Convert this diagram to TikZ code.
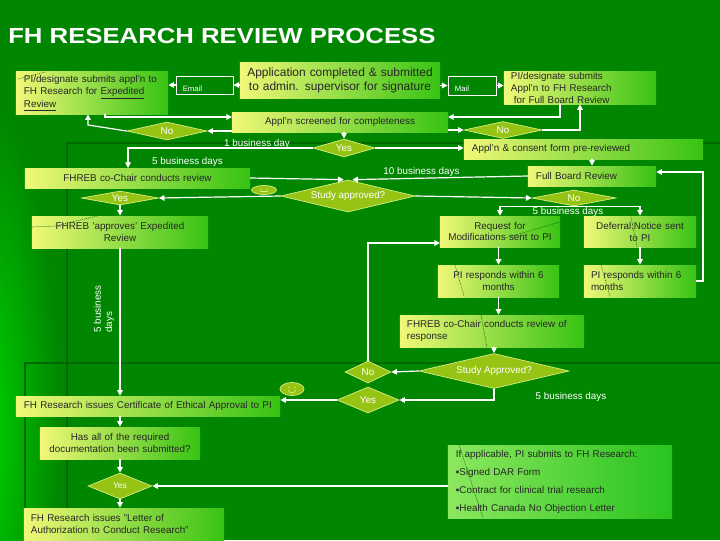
\documentclass[tikz,border=0pt]{standalone}
\usepackage{fontspec}
\setmainfont{Liberation Sans}
\newfontfamily\ttlfont{Liberation Sans}[FakeStretch=1.18]
\usetikzlibrary{arrows.meta,shapes.geometric}
\definecolor{bgmain}{RGB}{0,134,0}
\definecolor{bgedge}{RGB}{0,210,0}
\definecolor{bgline}{RGB}{0,104,0}
\definecolor{boxyel}{RGB}{240,248,120}
\definecolor{boxgrn}{RGB}{55,195,20}
\definecolor{notelt}{RGB}{140,232,95}
\definecolor{notedk}{RGB}{40,195,30}
\definecolor{decfill}{RGB}{150,196,20}
\definecolor{decedge}{RGB}{215,238,130}

\begin{document}
\begin{tikzpicture}[x=0.025cm,y=-0.025cm,>={Triangle[length=4pt,width=4pt]},line cap=round,
  stepbox/.style={rectangle,left color=boxyel,right color=boxgrn,text=black!85,inner sep=0pt,
    font=\fontsize{7}{8.5}\selectfont},
  decision/.style={diamond,fill=decfill,draw=decedge,line width=0.5pt,inner sep=0pt,text=white,
    font=\fontsize{7}{8}\selectfont},
  tagbox/.style={rectangle,draw=white,line width=0.6pt,inner sep=0pt},
  tagtxt/.style={text=white,inner sep=0pt,font=\fontsize{5.5}{6}\selectfont},
  daylbl/.style={text=white,inner sep=0pt,font=\fontsize{7}{8}\selectfont},
  flow/.style={white,line width=0.85pt,->},
  ghost/.style={densely dotted,black!65!green,line width=0.4pt},
  smiley/.style={ellipse,fill=decfill,draw=decedge,line width=0.5pt,inner sep=0pt}]

\useasboundingbox (0,0) rectangle (720,540);
\fill[bgmain] (0,0) rectangle (720,540);
\shade[inner color=bgedge,outer color=bgmain] (-15,430) ellipse (75 and 330);
\draw[bgline,line width=1.6pt] (67,540) -- (67,143) -- (720,143);
\draw[bgline,line width=1.2pt] (25,540) -- (25,363) -- (720,363);

\node[anchor=base west,text=white,inner sep=0pt,font=\ttlfont\bfseries\fontsize{15.5}{18}\selectfont] (ttl) at (8,43) {FH RESEARCH REVIEW PROCESS};

\node[stepbox,minimum width=3.8cm,minimum height=1.05cm,text width=3.4cm,align=left] (subExp) at (92,93) {PI/designate submits appl'n to\\FH Research for \underline{Expedited}\\\underline{Review}};
\node[tagbox,minimum width=1.425cm,minimum height=0.45cm] (email) at (204.5,85) {};
\node[tagtxt] (emailT) at (192.5,89) {Email};
\node[stepbox,minimum width=5cm,minimum height=0.875cm,text width=4.8cm,align=center,font=\fontsize{8.5}{10.5}\selectfont] (appSub) at (340,80.5) {Application completed \& submitted\\to admin. supervisor for signature};
\node[tagbox,minimum width=1.2cm,minimum height=0.475cm] (mail) at (472,85.5) {};
\node[tagtxt] (mailT) at (462,89) {Mail};
\node[stepbox,minimum width=3.8cm,minimum height=0.8cm,text width=3.45cm,align=left] (subFull) at (580,88) {PI/designate submits\\Appl'n to FH Research\\\hspace{2pt}for Full Board Review};
\node[stepbox,minimum width=5.4cm,minimum height=0.5cm,text width=5cm,align=center] (screen) at (340,122) {Appl'n screened for completeness};

\node[decision,shape aspect=4.4,minimum width=2cm,minimum height=0.45cm] (noL) at (167,131) {No};
\node[decision,shape aspect=4.6,minimum width=1.95cm,minimum height=0.425cm] (noR) at (503,130) {No};
\node[decision,shape aspect=3.4,minimum width=1.55cm,minimum height=0.45cm] (yesT) at (344,148) {Yes};

\node[stepbox,minimum width=5.975cm,minimum height=0.5cm,text width=5.575cm,align=left] (preRev) at (583.5,149) {Appl'n \& consent form pre-reviewed};
\node[stepbox,minimum width=5.625cm,minimum height=0.5cm,text width=5.2cm,align=center] (chairRev) at (137.5,178) {FHREB co-Chair conducts review};
\node[stepbox,minimum width=3.2cm,minimum height=0.5cm,text width=2.8cm,align=left] (fullBoard) at (592,176) {Full Board Review};

\node[decision,shape aspect=4.2,minimum width=3.35cm,minimum height=0.8cm] (studyOK) at (348,196) {Study approved?};
\node[smiley,minimum width=0.625cm,minimum height=0.225cm] (happyA) at (264,190) {};
\node[decision,shape aspect=5.5,minimum width=1.925cm,minimum height=0.35cm] (yesM) at (120,198) {Yes};
\node[decision,shape aspect=5.2,minimum width=2.1cm,minimum height=0.4cm] (noM) at (574,198) {No};

\node[stepbox,minimum width=4.4cm,minimum height=0.8cm,text width=4.2cm,align=center] (expOK) at (120,232) {FHREB 'approves' Expedited\\Review};
\node[stepbox,minimum width=3cm,minimum height=0.775cm,text width=2.9cm,align=center] (reqMod) at (500,231.5) {Request for\\Modifications sent to PI};
\node[stepbox,minimum width=2.8cm,minimum height=0.775cm,text width=2.7cm,align=center] (deferral) at (640,231.5) {Deferral:Notice sent\\to PI};
\node[stepbox,minimum width=3.025cm,minimum height=0.8cm,text width=2.9cm,align=center] (respL) at (498.5,281) {PI responds within 6\\months};
\node[stepbox,minimum width=2.8cm,minimum height=0.8cm,text width=2.45cm,align=left] (respR) at (640,281) {PI responds within 6\\months};
\node[stepbox,minimum width=4.6cm,minimum height=0.8cm,text width=4.25cm,align=left] (chairResp) at (492,331) {FHREB co-Chair conducts review of\\response};

\node[decision,shape aspect=4.3,minimum width=3.75cm,minimum height=0.875cm] (studyOK2) at (494,371) {Study Approved?};
\node[decision,shape aspect=2.1,minimum width=1.15cm,minimum height=0.55cm] (noB) at (368,372) {No};
\node[decision,shape aspect=2.4,minimum width=1.55cm,minimum height=0.65cm] (yesB) at (368,400) {Yes};
\node[smiley,minimum width=0.6cm,minimum height=0.325cm] (happyB) at (292,389) {};

\node[stepbox,minimum width=6.6cm,minimum height=0.5cm,text width=6.2cm,align=left] (certIss) at (148,406) {FH Research issues Certificate of Ethical Approval to PI};
\node[stepbox,minimum width=4cm,minimum height=0.8cm,text width=3.8cm,align=center] (docCheck) at (120,443) {Has all of the required\\documentation been submitted?};
\node[decision,shape aspect=2.5,minimum width=1.6cm,minimum height=0.65cm,font=\fontsize{6}{7}\selectfont] (yesL) at (120,486) {Yes};
\node[stepbox,minimum width=5cm,minimum height=0.8cm,text width=4.65cm,align=left] (letterIss) at (124,524) {FH Research issues "Letter of\\Authorization to Conduct Research"};
\node[stepbox,left color=notelt,right color=notedk,minimum width=5.6cm,minimum height=1.825cm,text width=5.2cm,align=left,font=\fontsize{7}{12.8}\selectfont] (docsNote) at (560,481.5) {If applicable, PI submits to FH Research:\\▪Signed DAR Form\\▪Contract for clinical trial research\\▪Health Canada No Objection Letter};

\node[daylbl] (oneDay) at (257,144) {1 business day};
\node[daylbl] (fiveA) at (187.5,162) {5 business days};
\node[daylbl] (tenDays) at (421.5,172) {10 business days};
\node[daylbl] (fiveB) at (568,212) {5 business days};
\node[daylbl] (fiveC) at (571,397) {5 business days};
\node[daylbl,rotate=90,align=left] (fiveV) at (104,309) {5 business\\days};

\fill[decedge] ([shift={(-2.2pt,0.5pt)}]happyA.center) circle (0.5pt);
\fill[decedge] ([shift={(2.2pt,0.5pt)}]happyA.center) circle (0.5pt);
\draw[decedge,line width=0.4pt] ([shift={(-2.6pt,-0.6pt)}]happyA.center) -- ([shift={(2.6pt,-0.6pt)}]happyA.center);
\fill[decedge] ([shift={(-2.2pt,1.2pt)}]happyB.center) circle (0.55pt);
\fill[decedge] ([shift={(2.2pt,1.2pt)}]happyB.center) circle (0.55pt);
\draw[decedge,line width=0.4pt] ([shift={(-2.8pt,-0.8pt)}]happyB.center) arc[start angle=200,end angle=340,radius=3pt];

\coordinate (jB1) at (105,114);
\coordinate (jB4a) at (232,117);
\coordinate (jB3) at (560,104);
\coordinate (jB4b) at (448,117);
\coordinate (kB1) at (88,125);
\coordinate (kB6) at (128,168);
\coordinate (kLoop) at (703,172);
\coordinate (kB9) at (440,243);

\draw[flow] (email.east -| appSub.west) -- (email.east);
\draw[flow] (email.west) -- (email.west -| subExp.east);
\draw[flow] (mail.west -| appSub.east) -- (mail.west);
\draw[flow] (mail.east) -- (mail.east -| subFull.west);
\draw[flow] (jB1) |- (jB4a);
\draw[flow] (jB3) |- (jB4b);
\draw[flow] (noL.east -| screen.west) -- (noL.east);
\draw[flow] (noL.west) -- (kB1) -- (kB1 |- subExp.south);
\draw[flow] (noR.west -| screen.east) -- (noR.west);
\draw[flow] (noR.east) -| (subFull.south);
\draw[flow] (screen.south -| yesT.north) -- (yesT.north);
\draw[flow] (yesT.west) -| (kB6);
\draw[flow] (yesT.east) -- (yesT.east -| preRev.west);
\draw[flow] (fullBoard.north |- preRev.south) -- (fullBoard.north);
\draw[flow] (chairRev.east) -- ([xshift=-3pt]studyOK.north);
\draw[flow] (fullBoard.west) -- ([xshift=3pt]studyOK.north);
\draw[flow] (studyOK.west) -- (yesM.east);
\draw[flow] (studyOK.east) -- (noM.west);
\draw[flow] (yesM.south) -- (expOK.north);
\draw[flow] (noM.south) -| (reqMod.north);
\draw[flow] (noM.south) -| (deferral.north);
\draw[flow] (respL.north |- reqMod.south) -- (respL.north);
\draw[flow] (deferral.south) -- (respR.north);
\draw[flow] (respL.south) -- (respL.south |- chairResp.north);
\draw[flow] (studyOK2.north |- chairResp.south) -- (studyOK2.north);
\draw[flow] (respR.east) -| (kLoop) -- (kLoop -| fullBoard.east);
\draw[flow] (studyOK2.west) -- (noB.east);
\draw[flow] (noB.north) |- (kB9);
\draw[flow] (studyOK2.south) |- (yesB.east);
\draw[flow] (yesB.west) -- (yesB.west -| certIss.east);
\draw[flow] (expOK.south) -- (expOK.south |- certIss.north);
\draw[flow] (docCheck.north |- certIss.south) -- (docCheck.north);
\draw[flow] (docCheck.south) -- (yesL.north);
\draw[flow] (yesL.south) -- (yesL.south |- letterIss.north);
\draw[flow] (yesL.east -| docsNote.west) -- (yesL.east);

\draw[ghost] (18,79) -- (45,72);
\draw[ghost] (32,227) -- (55,226) -- (97,216);
\draw[ghost] (505,238) -- (560,222);
\draw[ghost] (631,217) -- (637,247);
\draw[ghost] (455,265) -- (464,296);
\draw[ghost] (601,265) -- (610,296);
\draw[ghost] (481,315) -- (487,347);
\draw[ghost] (459,445) -- (483,518);
\end{tikzpicture}
\end{document}
